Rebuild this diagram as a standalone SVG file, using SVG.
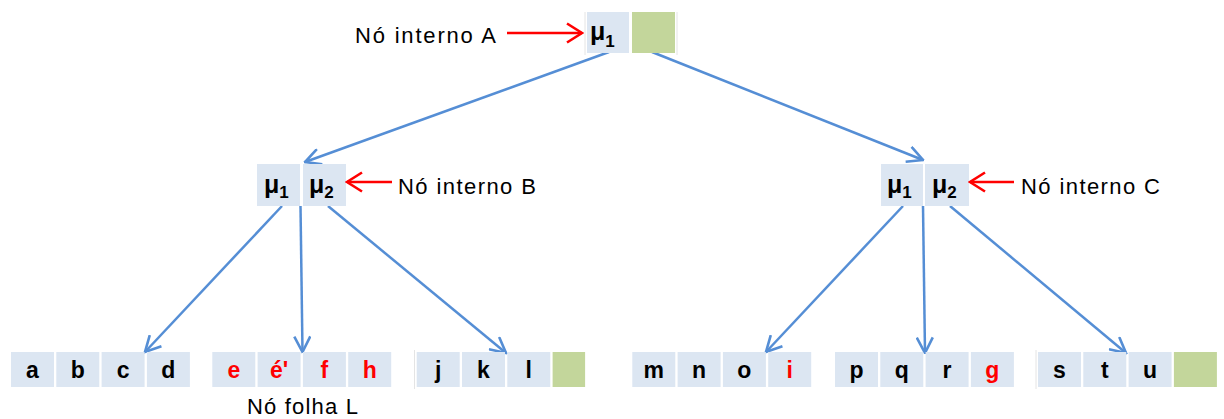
<svg xmlns="http://www.w3.org/2000/svg" width="1224" height="419" viewBox="0 0 1224 419">
  <style>
    .cell { fill: #DCE6F2; }
    .empty { fill: #C3D69B; }
    .sep { stroke: #E4E4E4; stroke-width: 1; }
    .key { font-family: "Liberation Sans", Arial, sans-serif; font-weight: bold; font-size: 23px; text-anchor: middle; fill: #000; }
    .red { fill: #FF0000; }
    .mu { font-family: "Liberation Sans", Arial, sans-serif; font-weight: bold; font-size: 25px; fill: #000; }
    .sub { font-size: 17px; }
    .label { font-family: "Liberation Sans", Arial, sans-serif; font-size: 22px; fill: #000; }
    .edge { stroke: #558ED5; stroke-width: 2.5; fill: none; marker-end: url(#blueHead); }
    .pointer { stroke: #FF0000; stroke-width: 2.5; fill: none; marker-end: url(#redHead); }
  </style>
  <defs>
    <marker id="blueHead" markerUnits="userSpaceOnUse" viewBox="0 0 18 18" refX="16.5" refY="9" markerWidth="18" markerHeight="18" orient="auto">
      <path d="M1,1 L16.5,9 L1,17" fill="none" stroke="#558ED5" stroke-width="2.6"/>
    </marker>
    <marker id="redHead" markerUnits="userSpaceOnUse" viewBox="0 0 18 22" refX="16" refY="11" markerWidth="18" markerHeight="22" orient="auto">
      <path d="M1,1.5 L16,11 L1,20.5" fill="none" stroke="#FF0000" stroke-width="2.6"/>
    </marker>
  </defs>

  <!-- tree edges -->
  <g id="connectors">
    <line class="edge" x1="609" y1="52" x2="305" y2="162"/>
    <line class="edge" x1="652" y1="52" x2="923" y2="160"/>
    <line class="edge" x1="282" y1="206" x2="145" y2="352"/>
    <line class="edge" x1="300.5" y1="206" x2="302.5" y2="352"/>
    <line class="edge" x1="328" y1="206" x2="506" y2="353"/>
    <line class="edge" x1="903" y1="206" x2="766" y2="352"/>
    <line class="edge" x1="923" y1="206" x2="925" y2="353"/>
    <line class="edge" x1="950" y1="206" x2="1126" y2="353"/>
  </g>

  <!-- internal node A (root) -->
  <g id="nodeA">
    <line class="sep" x1="585" y1="12" x2="585" y2="55"/>
    <line class="sep" x1="677" y1="12" x2="677" y2="55"/>
    <rect class="cell" x="587" y="12" width="42" height="41"/>
    <rect class="empty" x="632" y="12" width="43" height="41"/>
    <text class="mu" x="590" y="40">μ<tspan class="sub" dy="7">1</tspan></text>
  </g>

  <!-- internal node B -->
  <g id="nodeB">
    <rect class="cell" x="257" y="164" width="43" height="42"/>
    <rect class="cell" x="303" y="164" width="43" height="42"/>
    <text class="mu" x="264" y="193">μ<tspan class="sub" dy="5">1</tspan></text>
    <text class="mu" x="309" y="193">μ<tspan class="sub" dy="5">2</tspan></text>
  </g>

  <!-- internal node C -->
  <g id="nodeC">
    <rect class="cell" x="881" y="164" width="42" height="42"/>
    <rect class="cell" x="925" y="164" width="44" height="42"/>
    <text class="mu" x="887" y="193">μ<tspan class="sub" dy="5">1</tspan></text>
    <text class="mu" x="932" y="193">μ<tspan class="sub" dy="5">2</tspan></text>
  </g>

  <!-- leaf nodes -->
  <g id="leaf1">
    <rect class="cell" x="11" y="352" width="43" height="35"/>
    <rect class="cell" x="56.3" y="352" width="43" height="35"/>
    <rect class="cell" x="101.6" y="352" width="43" height="35"/>
    <rect class="cell" x="146.9" y="352" width="43" height="35"/>
    <text class="key" x="32.5" y="378">a</text>
    <text class="key" x="77.8" y="378">b</text>
    <text class="key" x="123.1" y="378">c</text>
    <text class="key" x="168.4" y="378">d</text>
  </g>

  <g id="leafL">
    <rect class="cell" x="212.3" y="352" width="43" height="35"/>
    <rect class="cell" x="257.6" y="352" width="43" height="35"/>
    <rect class="cell" x="302.9" y="352" width="43" height="35"/>
    <rect class="cell" x="348.2" y="352" width="43" height="35"/>
    <text class="key red" x="233.8" y="378">e</text>
    <text class="key red" x="279.1" y="378">é'</text>
    <text class="key red" x="324.4" y="378">f</text>
    <text class="key red" x="369.7" y="378">h</text>
  </g>

  <g id="leaf3">
    <line class="sep" x1="414.5" y1="350" x2="414.5" y2="389"/>
    <rect class="cell" x="416.7" y="352" width="43" height="35"/>
    <rect class="cell" x="462" y="352" width="43" height="35"/>
    <rect class="cell" x="507.3" y="352" width="43" height="35"/>
    <rect class="empty" x="552.6" y="352" width="32.5" height="35"/>
    <text class="key" x="438.2" y="378">j</text>
    <text class="key" x="483.5" y="378">k</text>
    <text class="key" x="528.8" y="378">l</text>
  </g>

  <g id="leaf4">
    <rect class="cell" x="632.3" y="352" width="43" height="35"/>
    <rect class="cell" x="677.6" y="352" width="43" height="35"/>
    <rect class="cell" x="722.9" y="352" width="43" height="35"/>
    <rect class="cell" x="768.2" y="352" width="43" height="35"/>
    <text class="key" x="653.8" y="378">m</text>
    <text class="key" x="699.1" y="378">n</text>
    <text class="key" x="744.4" y="378">o</text>
    <text class="key red" x="789.7" y="378">i</text>
  </g>

  <g id="leaf5">
    <rect class="cell" x="835" y="352" width="43" height="35"/>
    <rect class="cell" x="880.3" y="352" width="43" height="35"/>
    <rect class="cell" x="925.6" y="352" width="43" height="35"/>
    <rect class="cell" x="970.9" y="352" width="43" height="35"/>
    <text class="key" x="856.5" y="378">p</text>
    <text class="key" x="901.8" y="378">q</text>
    <text class="key" x="947.1" y="378">r</text>
    <text class="key red" x="992.4" y="378">g</text>
  </g>

  <g id="leaf6">
    <line class="sep" x1="1036" y1="350" x2="1036" y2="389"/>
    <rect class="cell" x="1038" y="352" width="43" height="35"/>
    <rect class="cell" x="1083.3" y="352" width="43" height="35"/>
    <rect class="cell" x="1128.6" y="352" width="43" height="35"/>
    <rect class="empty" x="1173.9" y="352" width="43" height="35"/>
    <text class="key" x="1059.5" y="378">s</text>
    <text class="key" x="1104.8" y="378">t</text>
    <text class="key" x="1150.1" y="378">u</text>
  </g>

  <!-- annotations -->
  <g id="labelA">
    <text class="label" x="355" y="43" textLength="141" lengthAdjust="spacing">Nó interno A</text>
    <line class="pointer" x1="507" y1="33" x2="582" y2="33"/>
  </g>
  <g id="labelB">
    <text class="label" x="398" y="194" textLength="138" lengthAdjust="spacing">Nó interno B</text>
    <line class="pointer" x1="392" y1="182" x2="347" y2="182"/>
  </g>
  <g id="labelC">
    <text class="label" x="1021" y="194" textLength="139" lengthAdjust="spacing">Nó interno C</text>
    <line class="pointer" x1="1014" y1="182" x2="970" y2="182"/>
  </g>
  <g id="labelL">
    <text class="label" x="247" y="414" textLength="111" lengthAdjust="spacing">Nó folha L</text>
  </g>
</svg>
